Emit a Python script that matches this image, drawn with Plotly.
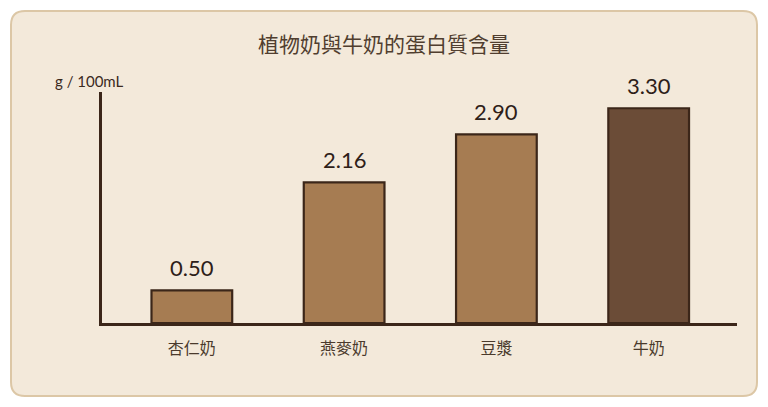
import plotly.graph_objects as go

categories = ["杏仁奶", "燕麥奶", "豆漿", "牛奶"]
protein = [0.50, 2.16, 2.90, 3.30]
value_labels = ["0.50", "2.16", "2.90", "3.30"]
bar_colors = ["#a67c52", "#a67c52", "#a67c52", "#6b4c37"]

W, H = 768, 407
L, R, T, B = 102, 31, 92, 84
pw, ph = W - L - R, H - T - B

def px_x(p):
    return (p - L) / pw

def px_y(p):
    return (H - B - p) / ph

fig = go.Figure()
fig.add_trace(go.Bar(
    x=categories, y=protein,
    marker=dict(color=bar_colors, line=dict(color="#3b2619", width=2.2)),
    width=0.53, hoverinfo="skip",
))

for c, v, t in zip(categories, protein, value_labels):
    fig.add_annotation(x=c, y=v, text=t, showarrow=False, yshift=23,
                       font=dict(family="Lato", size=22, color="#2e2018"))

# card background
x0, x1, y0, y1 = px_x(11), px_x(757), px_y(396), px_y(11)
rx, ry = 14 / pw, 14 / ph
path = (f"M {x0+rx},{y0} L {x1-rx},{y0} Q {x1},{y0} {x1},{y0+ry} "
        f"L {x1},{y1-ry} Q {x1},{y1} {x1-rx},{y1} L {x0+rx},{y1} "
        f"Q {x0},{y1} {x0},{y1-ry} L {x0},{y0+ry} Q {x0},{y0} {x0+rx},{y0} Z")
fig.add_shape(type="path", path=path, xref="paper", yref="paper",
              fillcolor="#f3e9da", line=dict(color="#dcc7a6", width=2), layer="below")

fig.add_annotation(xref="paper", yref="paper", x=px_x(89), y=px_y(81),
                   xanchor="center", yanchor="middle",
                   text="g / 100mL", showarrow=False,
                   font=dict(family="Lato", size=15, color="#3b2a1e"))

fig.update_layout(
    width=W, height=H,
    margin=dict(l=L, r=R, t=T, b=B),
    paper_bgcolor="white", plot_bgcolor="rgba(0,0,0,0)",
    showlegend=False,
    title=dict(text="植物奶與牛奶的蛋白質含量", xanchor="center",
               y=1 - 45 / H, yanchor="middle", xref="paper",
               font=dict(family="Noto Sans CJK TC", size=21, color="#503e2f")),
    xaxis=dict(range=[-0.59, 3.58], showline=True, linecolor="#3b2619", linewidth=2.5,
               showgrid=False, zeroline=False, ticks="", ticklabelstandoff=9,
               tickfont=dict(family="Noto Sans CJK TC", size=16, color="#4a3a2c")),
    yaxis=dict(range=[0, 3.55], showline=True, linecolor="#3b2619", linewidth=2.5,
               showgrid=False, zeroline=False, showticklabels=False, ticks=""),
)
fig.update_layout(title_x=px_x(384))

fig.write_html("out.html", config={"displayModeBar": False},
               post_script="document.body.style.margin='0';document.body.style.padding='0';")
